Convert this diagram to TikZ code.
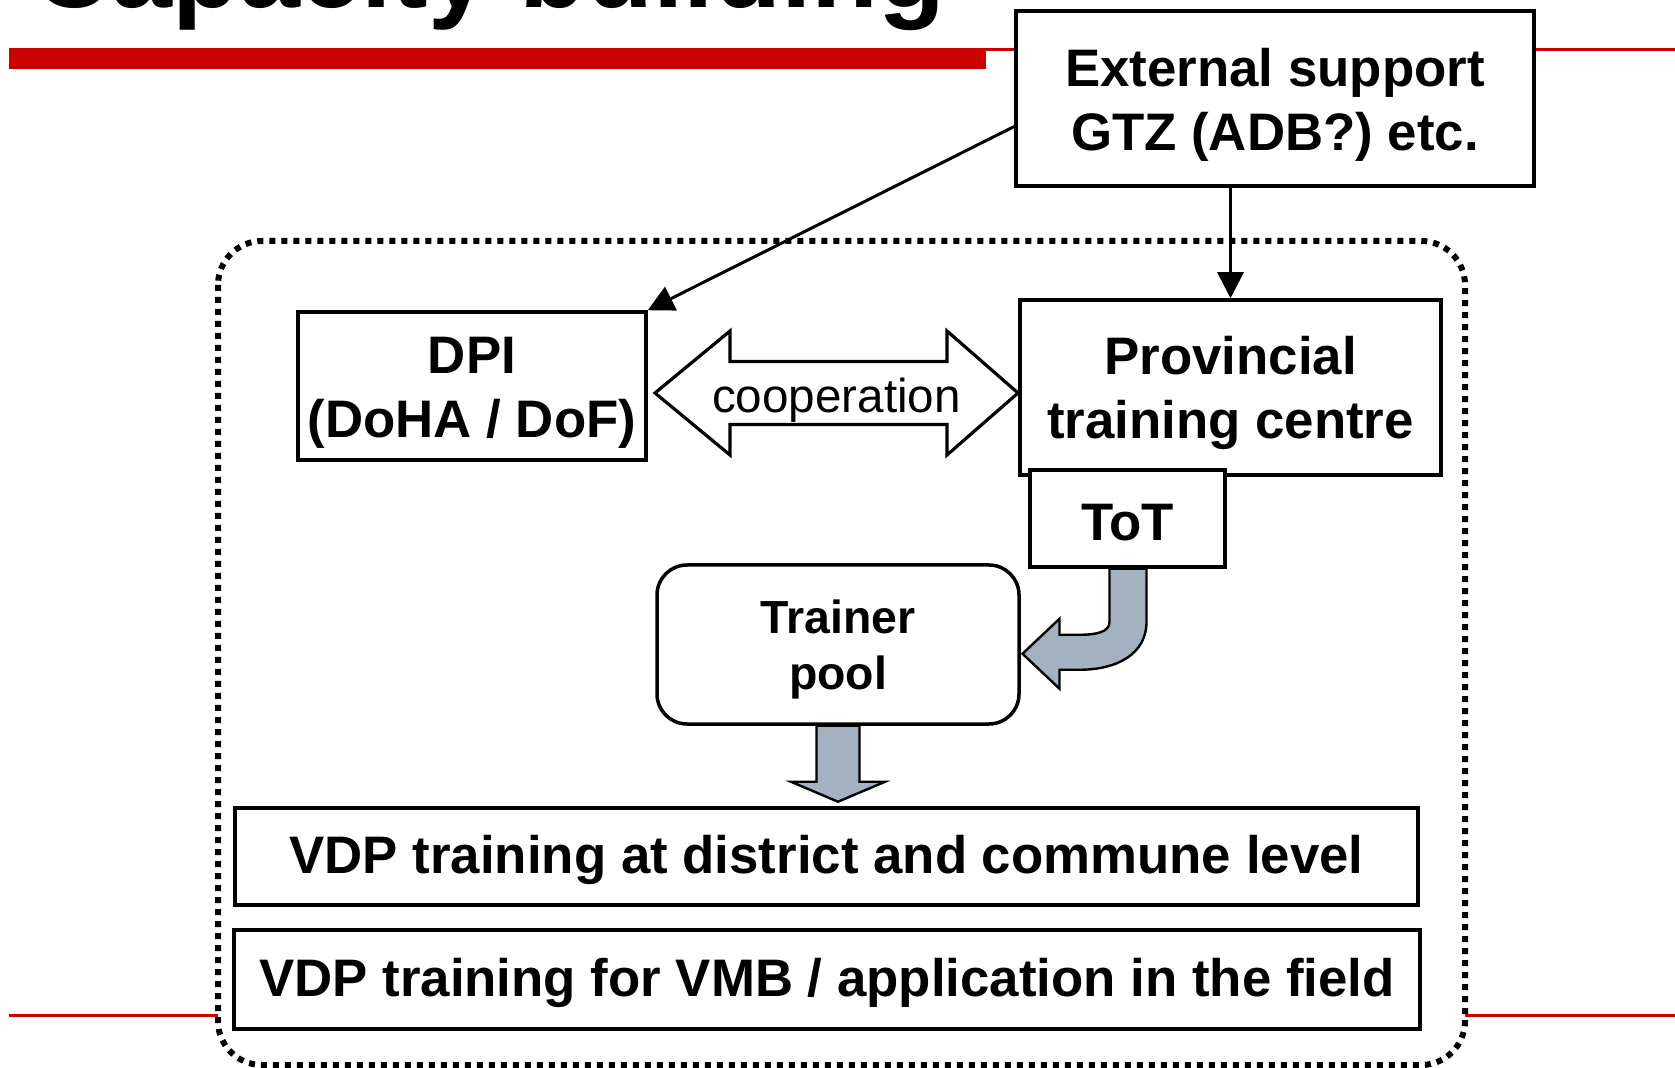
\documentclass[tikz,border=0pt]{standalone}
\usepackage{fontspec}
\setmainfont{Liberation Sans}
\usetikzlibrary{arrows.meta}
\definecolor{slidered}{RGB}{204,0,0}
\definecolor{arrowgrey}{RGB}{163,177,193}
\newcommand{\firstline}[1]{\rule{0pt}{#1}}

\begin{document}
\begin{tikzpicture}[x=0.5pt,y=-0.5pt,
  box/.style={draw,line width=1.75pt,fill=white,align=center,inner sep=0pt,
    font=\bfseries\fontsize{26.4}{32}\selectfont},
  linebox/.style={draw,line width=1.75pt,fill=white,inner sep=0pt,
    font=\bfseries\fontsize{26.4}{32}\selectfont,execute at begin node={\rule{0pt}{22.5pt}}},
  poolbox/.style={draw,line width=1.75pt,fill=white,align=center,inner sep=0pt,rounded corners=15pt,
    font=\bfseries\fontsize{23.2}{28.3}\selectfont},
  conn/.style={line width=1.5pt,-{Triangle[length=13pt,width=13pt]}},
  blockarrow/.style={draw,line width=1.2pt,line join=miter},
  frame/.style={draw,fill=white,line width=3pt,dash pattern=on 3pt off 3pt,rounded corners=22pt}]
  \useasboundingbox (0,0) rectangle (1675,1068);

  % slide title and rules
  \node[anchor=base west,inner sep=0pt,font=\bfseries\fontsize{54.8}{60}\selectfont] (title) at (32,8) {Capacity building};
  \fill[slidered] (9,48) rectangle (986,69);
  \draw[slidered,line width=1.5pt] (986,49.5) -- (1675,49.5);
  \draw[slidered,line width=1.5pt] (9,1015) -- (1675,1015);

  % dotted frame
  \draw[frame] (218,241) rectangle (1465,1065);

  % boxes
  \node[box,minimum width=259pt,minimum height=87.5pt] (ext) at (1275,98.5) {\firstline{25pt}External support\\GTZ (ADB?) etc.};
  \node[box,minimum width=174pt,minimum height=74pt] (dpi) at (472,386) {\firstline{25pt}DPI\\(DoHA / DoF)};
  \node[box,minimum width=210.5pt,minimum height=87.5pt] (ptc) at (1230.5,387.5) {\firstline{25pt}Provincial\\training centre};
  \node[linebox,minimum width=97.5pt,minimum height=48.5pt] (tot) at (1127.5,518.5) {ToT};
  \node[poolbox,minimum width=181pt,minimum height=79.5pt] (pool) at (838,644.5) {\firstline{22pt}Trainer\\pool};
  \node[linebox,minimum width=591.5pt,minimum height=48.5pt] (vdpa) at (826.5,856.5) {VDP training at district and commune level};
  \node[linebox,minimum width=593pt,minimum height=49.5pt] (vdpb) at (827,979.5) {VDP training for VMB / application in the field};

  % cooperation arrow
  \draw[blockarrow,line width=1.6pt] (655,393) -- (730,331) -- (730,361.5) -- (947,361.5) -- (947,331)
    -- (1018,393) -- (947,455) -- (947,424.5) -- (730,424.5) -- (730,455) -- cycle;
  \node[anchor=base,inner sep=0pt,font=\fontsize{23.8}{28}\selectfont] (coop) at (836.5,413) {cooperation};

  % ToT -> trainer pool
  \begin{scope}[shift={(tot.south)}]
    \draw[blockarrow,fill=arrowgrey] (-18,0) -- (-18,53) .. controls (-18,63) and (-30,66) .. (-48,66)
      -- (-68,66) -- (-68,50) -- (-105,85) -- (-68,120) -- (-68,101) -- (-48,101)
      .. controls (-10,101) and (19,85) .. (19,53) -- (19,0) -- cycle;
  \end{scope}

  % trainer pool -> VDP training
  \begin{scope}[shift={(pool.south)}]
    \draw[blockarrow,fill=arrowgrey] (-21.5,0) -- (-21.5,56) -- (-47,56) -- (0,76) -- (47,56)
      -- (21.5,56) -- (21.5,0) -- cycle;
  \end{scope}

  % support links
  \draw[conn] ([yshift=-14pt]ext.west) -- (dpi.north east);
  \draw[conn] (ext.south -| ptc.north) -- (ptc.north);
\end{tikzpicture}
\end{document}
